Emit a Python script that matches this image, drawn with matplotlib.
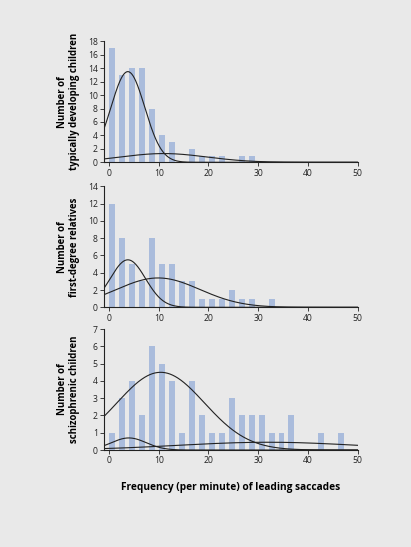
import matplotlib.pyplot as plt
import numpy as np

plt.rcParams['font.family'] = ['Open Sans', 'DejaVu Sans']

# centres of the 2-per-minute bins
bins = np.arange(24) * 2 + 0.7

# counts per bin
typical = [17, 13, 14, 14, 8, 4, 3, 0, 2, 1, 1, 1, 0, 1, 1, 0, 0, 0, 0, 0, 0, 0, 0, 0]
relatives = [12, 8, 5, 3, 8, 5, 5, 3, 3, 1, 1, 1, 2, 1, 1, 0, 1, 0, 0, 0, 0, 0, 0, 0]
schizo = [1, 3, 4, 2, 6, 5, 4, 1, 4, 2, 1, 1, 3, 2, 2, 2, 1, 1, 2, 0, 0, 1, 0, 1]

# fitted mixture components: (peak height, mean, sd)
typical_fit = [(13.5, 3.8, 3.4), (1.3, 11.0, 8.7)]
relatives_fit = [(5.5, 3.8, 3.55), (3.4, 9.9, 8.4)]
schizo_fit = [(4.5, 10.4, 8.8), (0.7, 4.0, 3.5), (0.45, 32.0, 18.0)]

ylabels = ['Number of\ntypically developing children',
           'Number of\nfirst-degree relatives',
           'Number of\nschizophrenic children']
ytops = [18, 14, 7]
ysteps = [2, 2, 1]

bg = '#e9e9e9'
bar_col = '#aabcdc'

fig = plt.figure(figsize=(4.11, 5.47), dpi=100, facecolor=bg)
bottoms = [0.7033, 0.4382, 0.1773]
xs = np.linspace(-1, 50, 400)

for i, (counts, fit) in enumerate(zip([typical, relatives, schizo],
                                      [typical_fit, relatives_fit, schizo_fit])):
    ax = fig.add_axes([0.253, bottoms[i], 0.617, 0.221])
    ax.set_facecolor(bg)
    ax.bar(bins, counts, width=1.2, color=bar_col, zorder=1)
    for h, mu, sd in fit:
        ax.plot(xs, h * np.exp(-(xs - mu) ** 2 / (2 * sd ** 2)),
                color='#222222', lw=0.8, zorder=2)
    ax.set_xlim(-1, 50)
    ax.set_ylim(0, ytops[i])
    ax.set_xticks(range(0, 51, 10))
    ax.set_yticks(range(0, ytops[i] + 1, ysteps[i]))
    for s in ['top', 'right']:
        ax.spines[s].set_visible(False)
    for s in ['left', 'bottom']:
        ax.spines[s].set_linewidth(0.8)
        ax.spines[s].set_color('#222222')
    ax.tick_params(labelsize=6.2, length=3, width=0.6, pad=1.5, colors='#222222')
    ax.set_ylabel(ylabels[i], fontsize=6.9, fontweight='bold', linespacing=1.15)
    ax.yaxis.set_label_coords(-0.095, 0.5)
    if i == 2:
        ax.set_xlabel('Frequency (per minute) of leading saccades',
                      fontsize=7.3, fontweight='bold', labelpad=12)

fig.savefig('out.png', dpi=100, facecolor=bg)
